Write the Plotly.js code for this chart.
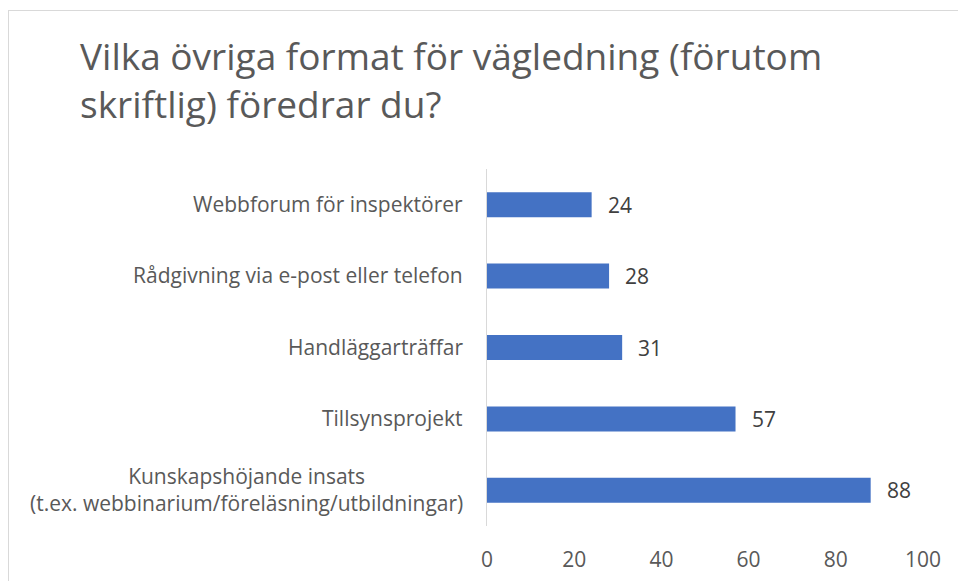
<!DOCTYPE html>
<html>
<head>
<meta charset="utf-8">
<script src="https://cdn.plot.ly/plotly-3.0.1.min.js"></script>
<style>
  html, body { margin: 0; padding: 0; background: #fff; }
  #wrap { position: relative; width: 958px; height: 581px; }
  #chart { position: absolute; left: 0; top: 0; width: 958px; height: 581px; }
  #frame { position: absolute; left: 8px; top: 10px; width: 960px; height: 600px;
           border-left: 1.5px solid #d9d9d9; border-top: 1.5px solid #d9d9d9; pointer-events: none; }
</style>
</head>
<body>
<div id="wrap">
  <div id="chart"></div>
  <div id="frame"></div>
</div>
<script>
const titleText = "Vilka övriga format för vägledning (förutom<br>skriftlig) föredrar du?";
const categories = [
  "Webbforum för inspektörer",
  "Rådgivning via e-post eller telefon",
  "Handläggarträffar",
  "Tillsynsprojekt",
  "Kunskapshöjande insats<br>(t.ex. webbinarium/föreläsning/utbildningar)"
];
const values = [24, 28, 31, 57, 88];
const xTicks = [0, 20, 40, 60, 80, 100];

const font = "'Open Sans', 'Noto Sans', sans-serif";

const labelAnnotations = categories.map(c => ({
  x: 0, xref: 'x', y: c, yref: 'y', text: c, showarrow: false,
  xanchor: 'right', align: 'center', xshift: -22, yshift: 1,
  font: {family: font, size: 21, color: '#595959'}
}));
const valueAnnotations = values.map((v, i) => ({
  x: v, xref: 'x', y: categories[i], yref: 'y', text: String(v), showarrow: false,
  xanchor: 'left', xshift: 14,
  font: {family: font, size: 21, color: '#404040'}
}));

Plotly.newPlot('chart', [{
  type: 'bar',
  orientation: 'h',
  x: values,
  y: categories,
  marker: {color: '#4472C4', line: {width: 0}},
  hoverinfo: 'none'
}], {
  width: 958, height: 581,
  margin: {l: 487, r: 35, t: 169, b: 55, pad: 0},
  paper_bgcolor: 'rgba(0,0,0,0)', plot_bgcolor: 'rgba(0,0,0,0)',
  bargap: 0.65,
  showlegend: false,
  title: {
    text: titleText,
    xref: 'container', x: 80/958, xanchor: 'left',
    yref: 'container', y: 1 - 70/581, yanchor: 'top',
    font: {family: font, size: 37, color: '#595959'}
  },
  xaxis: {
    range: [0, 100], tickvals: xTicks, ticktext: xTicks.map(String),
    showgrid: false, zeroline: false, showline: false,
    ticks: 'outside', ticklen: 15, tickcolor: 'rgba(0,0,0,0)',
    tickfont: {family: font, size: 21, color: '#595959'},
    fixedrange: true
  },
  yaxis: {
    type: 'category', autorange: 'reversed',
    showticklabels: false, showgrid: false, zeroline: false,
    showline: true, linecolor: '#d9d9d9', linewidth: 1.5,
    ticks: '', fixedrange: true
  },
  annotations: labelAnnotations.concat(valueAnnotations)
}, {displayModeBar: false, staticPlot: true});
</script>
</body>
</html>
